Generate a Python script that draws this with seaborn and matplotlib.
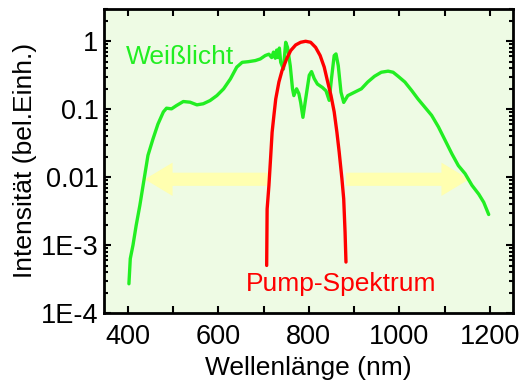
import numpy as np
import pandas as pd
import matplotlib
matplotlib.use("Agg")
import matplotlib.pyplot as plt
import seaborn as sns

# ---- data ----
white_nm = [403, 406, 412, 419, 427, 436, 445, 456, 467, 479, 486, 497, 508, 523, 538,
            553, 567, 582, 597, 612, 627, 641, 653, 667, 682, 693, 704, 712, 718, 722,
            726, 729, 732, 735, 738, 744, 749, 753, 759, 764, 767, 773, 778, 782, 787,
            793, 801, 806, 812, 819, 830, 838, 845, 850, 856, 860, 865, 871, 877, 886,
            901, 916, 930, 945, 960, 975, 986, 997, 1012, 1027, 1041, 1056, 1071, 1086,
            1101, 1116, 1130, 1145, 1160, 1175, 1186, 1197]
white_log = [-3.57, -3.2, -3.0, -2.71, -2.42, -2.05, -1.68, -1.44, -1.22, -1.04, -0.985,
             -0.995, -0.946, -0.887, -0.897, -0.936, -0.92, -0.873, -0.80, -0.70, -0.554,
             -0.38, -0.31, -0.30, -0.284, -0.26, -0.21, -0.19, -0.24, -0.16, -0.25, -0.13,
             -0.24, -0.10, -0.31, -0.41, -0.015, -0.09, -0.36, -0.70, -0.80, -0.70, -0.77,
             -0.90, -1.12, -0.85, -0.50, -0.446, -0.55, -0.63, -0.68, -0.73, -0.87, -0.55,
             -0.21, -0.186, -0.36, -0.75, -0.90, -0.80, -0.75, -0.70, -0.60, -0.515,
             -0.456, -0.44, -0.456, -0.515, -0.60, -0.725, -0.85, -0.97, -1.09, -1.26,
             -1.46, -1.66, -1.83, -1.95, -2.12, -2.25, -2.37, -2.55]

pump_nm = [707, 708, 712, 716, 719, 723, 727, 734, 741, 751, 760, 771, 782, 793, 804,
           815, 825, 834, 841, 849, 856, 862, 867, 873, 877, 880, 882]
pump_log = [-3.30, -2.47, -2.12, -1.68, -1.34, -1.09, -0.85, -0.60, -0.43, -0.26, -0.137,
            -0.054, -0.015, 0.0, -0.015, -0.09, -0.21, -0.38, -0.58, -0.80, -1.04, -1.34,
            -1.63, -2.02, -2.32, -2.81, -3.25]

x_ticks = [400, 600, 800, 1000, 1200]
y_ticks = [1e-4, 1e-3, 1e-2, 1e-1, 1]
y_tick_labels = ["1E-4", "1E-3", "0.01", "0.1", "1"]

white = pd.DataFrame({"nm": white_nm, "I": 10 ** np.array(white_log)})
pump = pd.DataFrame({"nm": pump_nm, "I": 10 ** np.array(pump_log)})

sns.set_theme(style="ticks")
plt.rcParams["font.family"] = ["Liberation Sans", "DejaVu Sans"]

fig = plt.figure(figsize=(5.2, 3.85), dpi=100)
ax = fig.add_axes([0.200, 0.187, 0.786, 0.790])
ax.set_facecolor("#EEFBE4")

arrow_col = "#FFFFB0"
aprops = dict(arrowstyle="simple,head_length=20,head_width=24,tail_width=9.5",
              mutation_scale=1, color=arrow_col, shrinkA=0, shrinkB=0, lw=0)
ax.annotate("", xy=(438, 0.0093), xytext=(709, 0.0093), arrowprops=aprops, zorder=1)
ax.annotate("", xy=(1154, 0.0093), xytext=(882, 0.0093), arrowprops=aprops, zorder=1)

sns.lineplot(data=white, x="nm", y="I", ax=ax, color="#22EE22", lw=2.4, zorder=3)
sns.lineplot(data=pump, x="nm", y="I", ax=ax, color="#FF0000", lw=2.4, zorder=4)

ax.set_yscale("log")
ax.set_xlim(348, 1250)
ax.set_ylim(1e-4, 3)

ax.set_xticks(x_ticks)
ax.set_xticklabels([str(t) for t in x_ticks])
ax.set_xticks(np.arange(400, 1201, 100), minor=True)
ax.set_yticks(y_ticks)
ax.set_yticklabels(y_tick_labels)

ax.tick_params(which="both", direction="in", top=True, right=True, labelsize=19.5,
               color="black", labelcolor="black", width=1.5)
ax.tick_params(which="major", length=5)
ax.tick_params(which="minor", length=3)
ax.tick_params(axis="x", which="minor", length=5)
ax.tick_params(axis="x", which="major", pad=8)
ax.tick_params(axis="y", which="major", pad=4)
for s in ax.spines.values():
    s.set_linewidth(2)
    s.set_color("black")

ax.set_xlabel("Wellenlänge (nm)", fontsize=19, labelpad=4, color="black")
ax.set_ylabel("Intensität (bel.Einh.)", fontsize=19, labelpad=3, color="black")

ax.text(396, 0.46, "Weißlicht", color="#22EE22", fontsize=19, va="baseline", ha="left")
ax.text(660, 2.1e-4, "Pump-Spektrum", color="#FF0000", fontsize=19, va="baseline", ha="left")

fig.savefig("out.png", dpi=100)
